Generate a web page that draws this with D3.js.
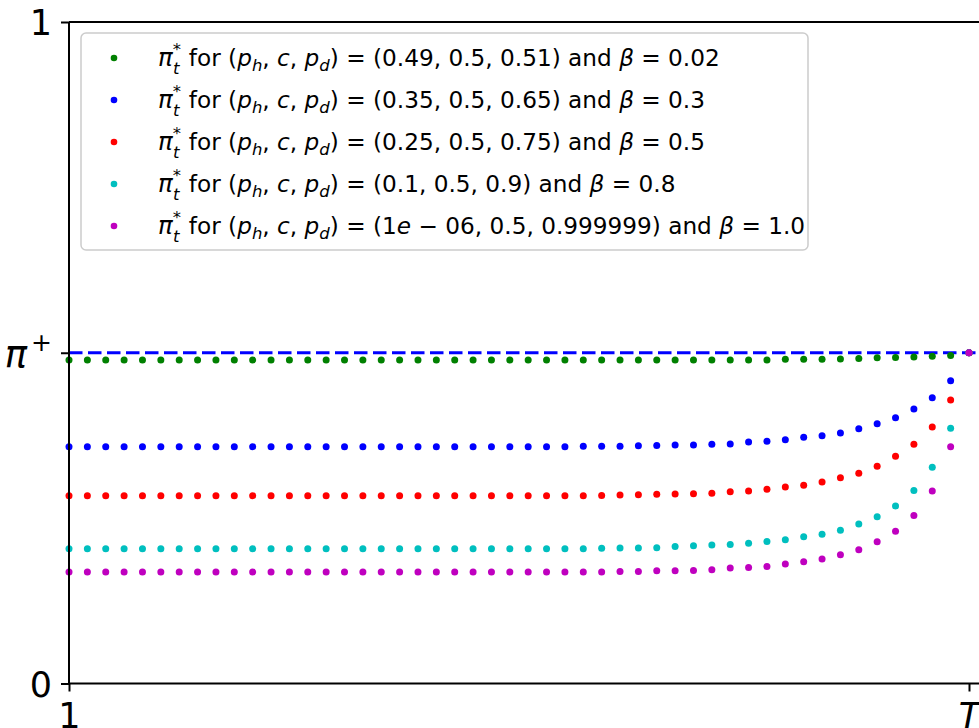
<!DOCTYPE html>
<html>
<head>
<meta charset="utf-8">
<script src="https://cdn.jsdelivr.net/npm/d3@7/dist/d3.min.js"></script>
<style>
  html, body { margin: 0; padding: 0; background: #fff; overflow: hidden; }
  svg { display: block; font-family: "DejaVu Sans", sans-serif; }
</style>
</head>
<body>
<svg id="chart" width="979" height="728"></svg>
<script>
// ---- data ----
const T = 50;
const steps = d3.range(1, T + 1);           // t = 1 .. T
const xTickLabels = ["1", "T"];
const yTickLabels = ["0", "π+", "1"];
const piPlus = 0.5;

const greenVals = [
  0.489,0.489,0.489,0.489,0.489,0.489,0.489,0.489,0.489,0.489,
  0.489,0.489,0.489,0.489,0.489,0.489,0.489,0.489,0.489,0.489,
  0.489,0.489,0.489,0.489,0.489,0.489,0.489,0.489,0.489,0.489,
  0.489,0.489,0.489,0.489,0.489,0.489,0.489,0.489,0.489,0.4902,
  0.4902,0.4902,0.4907,0.4912,0.4925,0.4928,0.4937,0.4947,0.4957,0.5
];
const blueVals = [
  0.358,0.358,0.358,0.358,0.358,0.358,0.358,0.358,0.358,0.358,
  0.358,0.358,0.358,0.358,0.358,0.358,0.358,0.358,0.358,0.358,
  0.358,0.358,0.358,0.358,0.358,0.358,0.358,0.358,0.3585,0.3587,
  0.3588,0.3594,0.3596,0.3605,0.3607,0.3615,0.362,0.365,0.3661,0.3685,
  0.3721,0.3745,0.3786,0.3851,0.3926,0.4017,0.4148,0.4318,0.4575,0.5
];
const redVals = [
  0.284,0.284,0.284,0.284,0.284,0.284,0.284,0.284,0.284,0.284,
  0.284,0.284,0.284,0.284,0.284,0.284,0.284,0.284,0.284,0.284,
  0.284,0.284,0.284,0.284,0.284,0.284,0.284,0.284,0.284,0.2842,
  0.2851,0.2853,0.2861,0.2866,0.287,0.2876,0.29,0.2911,0.2937,0.2971,
  0.2997,0.3047,0.3112,0.3178,0.3284,0.3434,0.3615,0.3876,0.4284,0.5
];
const cyanVals = [
  0.2036,0.2036,0.2036,0.2036,0.2036,0.2036,0.2036,0.2036,0.2036,0.2036,
  0.2036,0.2036,0.2036,0.2036,0.2036,0.2036,0.2036,0.2036,0.2036,0.2036,
  0.2036,0.2036,0.2036,0.2036,0.2036,0.2036,0.2036,0.2036,0.2036,0.2045,
  0.2047,0.2048,0.2051,0.2071,0.2081,0.2092,0.2101,0.2122,0.2146,0.2172,
  0.2217,0.2258,0.2318,0.2413,0.2519,0.2685,0.2916,0.3268,0.3857,0.5
];
const magentaVals = [
  0.1685,0.1685,0.1685,0.1685,0.1685,0.1685,0.1685,0.1685,0.1685,0.1685,
  0.1685,0.1685,0.1685,0.1685,0.1685,0.1685,0.1685,0.1685,0.1685,0.1685,
  0.1685,0.1685,0.1685,0.1685,0.1685,0.1685,0.1685,0.1685,0.1685,0.1687,
  0.1694,0.1695,0.1704,0.1705,0.1709,0.1719,0.1745,0.1754,0.1769,0.1805,
  0.184,0.1881,0.1946,0.2021,0.2142,0.2303,0.2538,0.2911,0.3579,0.5
];

const seriesNames = ["green", "blue", "red", "cyan", "magenta"];
const seriesColors = ["#008000", "#0000ff", "#ff0000", "#00bfbf", "#bf00bf"];
const seriesParams = ["(0.49, 0.5, 0.51)", "(0.35, 0.5, 0.65)", "(0.25, 0.5, 0.75)", "(0.1, 0.5, 0.9)", null];
const seriesBetas = ["0.02", "0.3", "0.5", "0.8", "1.0"];
const seriesValues = [greenVals, blueVals, redVals, cyanVals, magentaVals];

// ---- layout ----
const svg = d3.select("#chart");
const pLeft = 69, pTop = 22, pBottom = 683.5, pRight = 1000;
const x = d3.scaleLinear().domain([1, T]).range([69, 969]);
const y = d3.scaleLinear().domain([0, 1]).range([pBottom, pTop]);

// dashed pi+ line (drawn under the points)
svg.append("line")
  .attr("x1", pLeft).attr("x2", pRight)
  .attr("y1", y(piPlus)).attr("y2", y(piPlus))
  .attr("stroke", "#0000ff").attr("stroke-width", 3.2)
  .attr("stroke-dasharray", "13.5,5.5");

// points
seriesValues.forEach((vals, i) => {
  svg.append("g").selectAll("circle")
    .data(steps)
    .join("circle")
    .attr("cx", t => x(t))
    .attr("cy", (t, j) => y(vals[j]))
    .attr("r", 3.5)
    .attr("fill", seriesColors[i]);
});

// top spine
svg.append("line").attr("x1", pLeft).attr("x2", pRight).attr("y1", pTop).attr("y2", pTop)
  .attr("stroke", "#000").attr("stroke-width", 2);

// axes
const xAxis = d3.axisBottom(x).tickValues([1, T]).tickSize(8).tickPadding(4)
  .tickFormat((d, i) => xTickLabels[i]);
const gx = svg.append("g").attr("transform", `translate(0,${pBottom})`).call(xAxis);
gx.select(".domain").attr("d", `M${pLeft},0H${pRight}`).attr("stroke-width", 2);
gx.selectAll(".tick line").attr("stroke-width", 2);
gx.selectAll(".tick text")
  .attr("font-family", "DejaVu Sans").attr("font-size", 35).attr("fill", "#000")
  .attr("dy", null).attr("y", 44.5)
  .attr("font-style", (d, i) => i === 1 ? "italic" : "normal");

const yAxis = d3.axisLeft(y).tickValues([0, piPlus, 1]).tickSize(8).tickPadding(9)
  .tickFormat((d, i) => yTickLabels[i]);
const gy = svg.append("g").attr("transform", `translate(${pLeft},0)`).call(yAxis);
gy.select(".domain").attr("d", `M0,${pBottom}V${pTop}`).attr("stroke-width", 2);
gy.selectAll(".tick line").attr("stroke-width", 2);
gy.selectAll(".tick text")
  .attr("font-family", "DejaVu Sans").attr("font-size", 35).attr("fill", "#000")
  .attr("dy", "0.36em");
// rebuild the pi+ label with tspans
gy.selectAll(".tick text").filter((d) => d === piPlus).each(function () {
  const t = d3.select(this);
  t.text(null).attr("dy", "0.38em");
  t.append("tspan").attr("font-style", "italic").attr("font-size", 37).text("π");
  t.append("tspan").attr("font-size", 25).attr("dx", 4).attr("dy", "-0.62em").text("+");
});

// ---- legend ----
const lg = svg.append("g");
lg.append("rect")
  .attr("x", 81).attr("y", 33).attr("width", 727).attr("height", 217)
  .attr("rx", 5).attr("ry", 5)
  .attr("fill", "#fff").attr("fill-opacity", 0.8)
  .attr("stroke", "#cccccc").attr("stroke-width", 1.5);

const fs = 23.2, small = 16.5;
function addRow(i, yy) {
  lg.append("circle").attr("cx", 114).attr("cy", yy).attr("r", 3.3).attr("fill", seriesColors[i]);
  const t = lg.append("text").attr("x", 158).attr("y", yy + 8).attr("font-size", fs).attr("fill", "#000");
  const seg = (txt, opts = {}) => {
    const s = t.append("tspan").text(txt);
    if (opts.it) s.attr("font-style", "italic");
    if (opts.size) s.attr("font-size", opts.size);
    if (opts.dy !== undefined) s.attr("dy", opts.dy);
    if (opts.dx !== undefined) s.attr("dx", opts.dx);
    return s;
  };
  seg("π", { it: true, size: 24.5 });
  seg("*", { size: small, dy: -11.5 });
  seg("t", { it: true, size: small, dx: -8, dy: 19.5 });
  seg(" for (", { dy: -8, dx: 2 });
  seg("p", { it: true });
  seg("h", { it: true, size: small, dy: 5 });
  seg(", ", { dy: -5 });
  seg("c", { it: true });
  seg(", ");
  seg("p", { it: true });
  seg("d", { it: true, size: small, dy: 5 });
  seg(") = ", { dy: -5 });
  if (seriesParams[i] !== null) {
    seg(seriesParams[i]);
  } else {
    seg("(1");
    seg("e", { it: true });
    seg(" − 06, 0.5, 0.999999)");
  }
  seg(" and ");
  seg("β", { it: true });
  seg(" = " + seriesBetas[i]);
}
const rowYs = [58, 100, 142, 184, 226];
seriesNames.forEach((n, i) => addRow(i, rowYs[i]));
</script>
</body>
</html>
